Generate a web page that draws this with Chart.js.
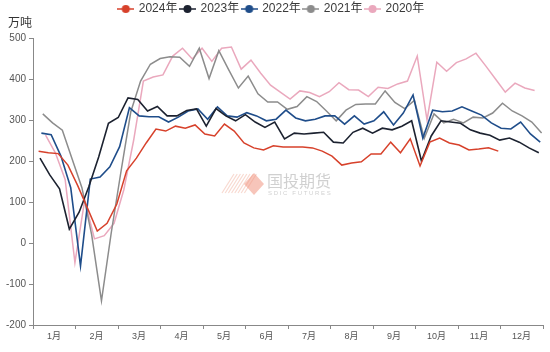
<!DOCTYPE html>
<html><head><meta charset="utf-8">
<script src="https://cdn.jsdelivr.net/npm/chart.js@4/dist/chart.umd.min.js"></script>
<style>html,body{margin:0;padding:0;background:#fff}#wrap{width:550px;height:352px}</style>
</head><body><div id="wrap"><canvas id="c" width="550" height="352"></canvas></div>
<script>
const monthLabels = ['1月','2月','3月','4月','5月','6月','7月','8月','9月','10月','11月','12月'];
const seriesNames = ['2024年','2023年','2022年','2021年','2020年'];
const yTicks = [-200,-100,0,100,200,300,400,500];
const unitLabel = '万吨';
// day of year (0-based) of the first weekly figure of each year
const startDays = [4,5,6,7,9];

const v2024 = [224,220,218,190,140,85,29,48,95,176,207,244,278,273,285,280,288,266,261,290,273,244,232,227,237,234,234,234,232,224,212,190,195,198,217,217,246,220,254,188,246,256,244,239,227,229,232,224];
const v2023 = [207,166,132,34,75,138,210,292,306,354,350,322,333,310,310,323,327,285,328,310,298,313,295,282,295,254,268,266,268,270,246,244,270,280,268,280,276,285,298,200,261,298,295,292,276,268,263,251,256,246,232,220];
const v2022 = [268,264,212,135,-56,156,161,186,235,330,310,308,308,295,307,322,327,302,332,310,307,318,310,298,302,324,305,298,302,310,310,290,310,290,298,320,288,317,361,256,324,320,322,332,322,312,293,280,278,295,266,246];
const v2021 = [315,293,275,205,135,20,-141,25,175,320,395,436,450,454,453,431,475,401,469,423,378,407,364,344,344,326,333,357,345,322,298,324,338,339,339,371,343,328,348,255,315,293,302,293,307,305,317,341,322,310,295,268];
const v2020 = [263,220,155,-48,105,10,18,48,130,250,395,405,410,456,475,449,475,443,475,478,424,446,414,385,368,351,371,367,357,369,391,374,373,357,380,377,388,395,456,300,441,419,440,449,463,432,400,368,390,378,372];

const allValues = [v2024, v2023, v2022, v2021, v2020];
const colors = ['#d7412b','#1c2230','#1f4d8a','#8c8c8c','#eaa8bd'];
const widths = [1.5,1.6,1.6,1.5,1.5];

const DAYS_PER_MONTH = 365/12;
function toPoints(vals, start){ return vals.map((v,i)=>({x:(start+7*i)/DAYS_PER_MONTH, y:v})); }

function makeMarker(color){
  const c = document.createElement('canvas');
  c.width = 17; c.height = 10;
  const g = c.getContext('2d');
  g.strokeStyle = color; g.lineWidth = 1.5;
  g.beginPath(); g.moveTo(0,5); g.lineTo(17,5); g.stroke();
  g.fillStyle = color;
  g.beginPath(); g.arc(8.5,5,4,0,Math.PI*2); g.fill();
  return c;
}
const markers = colors.map(makeMarker);

const FONT = 'Arial, "Liberation Sans", "Noto Sans CJK SC", sans-serif';

const extras = {
  id:'extras',
  beforeDatasetsDraw(chart){
    const ctx = chart.ctx;
    ctx.save();
    // watermark
    ctx.strokeStyle = 'rgba(240,170,150,0.45)';
    ctx.lineWidth = 1.2;
    for(let k=0;k<8;k++){
      ctx.beginPath();
      ctx.moveTo(222+k*3.2, 193);
      ctx.lineTo(234+k*3.2, 174);
      ctx.stroke();
    }
    ctx.fillStyle = 'rgba(240,150,130,0.55)';
    ctx.beginPath();
    ctx.moveTo(254,173); ctx.lineTo(264,184); ctx.lineTo(254,195); ctx.lineTo(244,184); ctx.closePath(); ctx.fill();
    ctx.fillStyle = 'rgba(150,150,150,0.45)';
    ctx.font = '16px "Noto Sans CJK SC", sans-serif';
    ctx.textBaseline = 'middle'; ctx.textAlign = 'left';
    ctx.fillText('国投期货', 267, 181);
    ctx.font = '6px ' + FONT;
    ctx.fillText('S D I C   F U T U R E S', 268, 193);
    ctx.restore();
  },
  afterDraw(chart){
    const ctx = chart.ctx;
    ctx.save();
    ctx.fillStyle = '#333';
    ctx.font = '12px "Noto Sans CJK SC", sans-serif';
    ctx.textBaseline = 'middle'; ctx.textAlign = 'left';
    ctx.fillText(unitLabel, 8, 22);
    ctx.restore();
  }
};

const chart = new Chart(document.getElementById('c'), {
  type:'line',
  data:{
    datasets: allValues.map((vals,i)=>({
      label: seriesNames[i],
      data: toPoints(vals, startDays[i]),
      borderColor: colors[i],
      backgroundColor: colors[i],
      borderWidth: widths[i],
      pointRadius: 0,
      tension: 0,
      fill: false,
      order: i
    })).reverse()
  },
  options:{
    responsive:false,
    animation:false,
    devicePixelRatio:1,
    layout:{padding:{left:0,right:7,top:0,bottom:0}},
    plugins:{
      tooltip:{enabled:false},
      legend:{
        position:'top', align:'center',
        labels:{
          usePointStyle:true, pointStyleWidth:14, boxHeight:10, padding:3,
          color:'#3a3a3a', font:{size:12, family:FONT},
          generateLabels(){
            return seriesNames.map((n,i)=>({text:n, pointStyle:markers[i], fillStyle:colors[i], strokeStyle:colors[i], lineWidth:0, hidden:false, fontColor:'#3a3a3a'}));
          }
        }
      }
    },
    scales:{
      x:{
        type:'linear', min:0, max:12,
        afterBuildTicks(s){ s.ticks = monthLabels.map((_,i)=>({value:i})).concat([{value:12}]); },
        afterFit(s){ s.height = 27; s.paddingRight = 0; },
        ticks:{autoSkip:false, maxRotation:0, minRotation:0, labelOffset:21, padding:2, color:'#555', font:{size:9, family:FONT},
          callback:(v)=> monthLabels[v] !== undefined ? monthLabels[v] : ''},
        grid:{drawOnChartArea:false, drawTicks:true, tickLength:4, color:'#888'},
        border:{display:true, color:'#888'}
      },
      y:{
        min:-200, max:500,
        afterBuildTicks(s){ s.ticks = yTicks.map(v=>({value:v})); },
        afterFit(s){ s.width = 33; },
        ticks:{color:'#555', font:{size:10, family:FONT}, padding:3},
        grid:{drawOnChartArea:false, drawTicks:true, tickLength:4, color:'#888'},
        border:{display:true, color:'#888'}
      }
    }
  },
  plugins:[extras]
});
// reserve the band between the legend and the plot (where the unit label sits)
const legendBox = chart.legend;
const baseFit = legendBox.fit.bind(legendBox);
legendBox.fit = function(){ baseFit(); this.height = 38; };
chart.update('none');
</script></body></html>
